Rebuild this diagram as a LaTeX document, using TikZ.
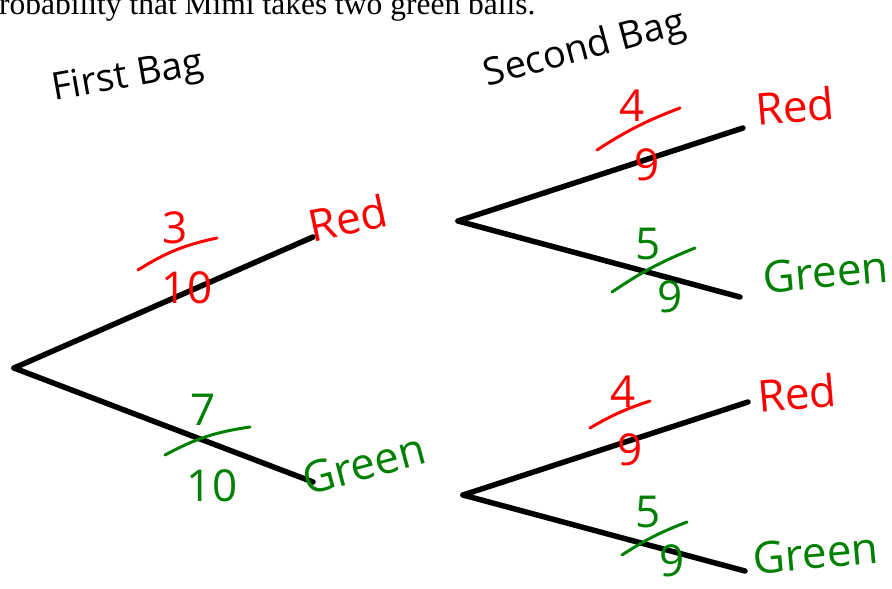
\documentclass[tikz,border=0pt]{standalone}
\usepackage{fontspec}
\newfontfamily\handfont{Open Sans}
\newfontfamily\printfont{Liberation Serif}
\definecolor{penred}{RGB}{255,0,0}
\definecolor{pengreen}{RGB}{0,128,0}

\begin{document}
\begin{tikzpicture}[
  x=1pt, y=-1pt,
  branch/.style={draw=black, line width=5.5pt, line cap=round},
  hand/.style={font=\handfont\fontsize{44}{48}\selectfont, inner sep=0pt},
  title/.style={font=\handfont\fontsize{38}{42}\selectfont, inner sep=0pt, black},
  digit/.style={font=\handfont\fontsize{44}{48}\selectfont, inner sep=0pt},
  stroke/.style={line width=3pt, line cap=round}
]
\useasboundingbox (0,0) rectangle (892,589);

% question text, cut off at the top
\node[font=\printfont\fontsize{31.5}{34}\selectfont, anchor=base west, inner sep=0pt]
  (question) at (-1,15) {robability that Mimi takes two green balls.};

\node[title, rotate=10] (bag1) at (128,78) {First Bag};
\node[title, rotate=15] (bag2) at (585,50) {Second Bag};

% tree points
\coordinate (root) at (14,368);
\coordinate (r1) at (313,237);
\coordinate (g1) at (313,482);
\coordinate (rootR) at (458,221);
\coordinate (rr) at (743,128);
\coordinate (rg) at (740,297);
\coordinate (rootG) at (463,495);
\coordinate (gr) at (748,402);
\coordinate (gg) at (745,571);

\draw[branch] (root) -- (r1);
\draw[branch] (root) -- (g1);
\draw[branch] (rootR) -- (rr);
\draw[branch] (rootR) -- (rg);
\draw[branch] (rootG) -- (gr);
\draw[branch] (rootG) -- (gg);

% outcomes
\node[hand, penred, rotate=12] (red1) at (348,218) {Red};
\node[hand, pengreen, rotate=15] (green1) at (364,464) {Green};
\node[hand, penred, rotate=5] (redR) at (795,106) {Red};
\node[hand, pengreen, rotate=5] (greenR) at (826,272) {Green};
\node[hand, penred, rotate=5] (redG) at (797,393) {Red};
\node[hand, pengreen, rotate=5] (greenG) at (816,553) {Green};

% probabilities
\node[digit, penred] (n1) at (175,228) {3};
\draw[stroke, penred] (138,270) to[bend left=10] (217,238);
\node[digit, penred] (d1) at (187,288) {10};

\node[digit, pengreen] (n2) at (203,410) {7};
\draw[stroke, pengreen] (165,455) to[bend left=10] (250,427);
\node[digit, pengreen] (d2) at (212,486) {10};

\node[digit, penred] (n3) at (632,106) {4};
\draw[stroke, penred] (597,150) to[bend left=6] (680,108);
\node[digit, penred] (d3) at (647,165) {9};

\node[digit, pengreen] (n4) at (648,244) {5};
\draw[stroke, pengreen] (612,292) to[bend left=6] (695,248);
\node[digit, pengreen] (d4) at (670,297) {9};

\node[digit, penred] (n5) at (623,392) {4};
\draw[stroke, penred] (590,428) to[bend left=6] (650,401);
\node[digit, penred] (d5) at (630,450) {9};

\node[digit, pengreen] (n6) at (648,512) {5};
\draw[stroke, pengreen] (622,555) to[bend left=6] (687,522);
\node[digit, pengreen] (d6) at (672,561) {9};

\end{tikzpicture}
\end{document}
